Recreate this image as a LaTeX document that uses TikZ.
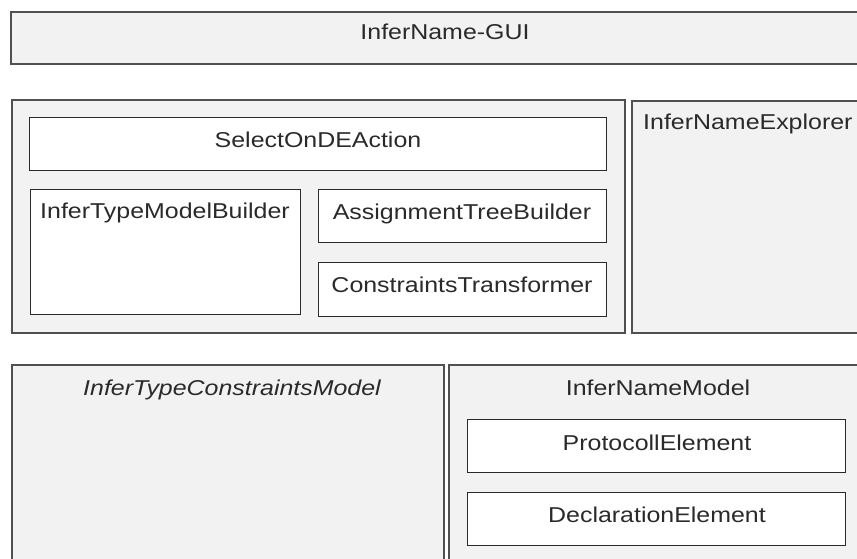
\documentclass[tikz,border=0pt]{standalone}
\usepackage{fontspec}
\setmainfont{Liberation Sans}[FakeStretch=1.16]
\definecolor{panel}{HTML}{F2F2F2}
\definecolor{edge}{HTML}{505050}
\definecolor{ink}{HTML}{2A2A2A}
\begin{document}
\begin{tikzpicture}[x=1pt,y=-1pt,
  outerbox/.style={draw=edge, line width=2.2pt, fill=panel, rectangle, inner sep=0pt, anchor=north west},
  innerbox/.style={draw=ink, line width=1.4pt, fill=white, rectangle, inner sep=0pt, anchor=north west},
  lbl/.style={text=ink, font=\fontsize{21.5}{24}\selectfont, inner sep=0pt, anchor=base}
]
\useasboundingbox (0,0) rectangle (857,559);
\fill[white] (0,0) rectangle (857,559);
% top
\node[outerbox, minimum width=880pt, minimum height=52pt] (gui) at (10,11) {};
\node[lbl] (guit) at (445,40) {InferName-GUI};
% middle left
\node[outerbox, minimum width=613pt, minimum height=233pt] (act) at (11,99) {};
\node[innerbox, minimum width=577pt, minimum height=53pt] (sel) at (29,117) {};
\node[lbl] (selt) at (318,148) {SelectOnDEAction};
\node[innerbox, minimum width=270pt, minimum height=125pt] (itmb) at (30,189) {};
\node[lbl, anchor=base west] (itmbt) at (40,218) {InferTypeModelBuilder};
\node[innerbox, minimum width=288pt, minimum height=53pt] (atb) at (318,189) {};
\node[lbl] (atbt) at (462,219) {AssignmentTreeBuilder};
\node[innerbox, minimum width=288pt, minimum height=54pt] (ct) at (318,262) {};
\node[lbl] (ctt) at (462,292) {ConstraintsTransformer};
% explorer
\node[outerbox, minimum width=240pt, minimum height=232pt] (exp) at (631,100) {};
\node[lbl, anchor=base west] (expt) at (643,130) {InferNameExplorer};
% bottom
\node[outerbox, minimum width=432pt, minimum height=220pt] (itcm) at (11,364) {};
\node[lbl] (itcmt) at (232,395) {\itshape InferTypeConstraintsModel};
\node[outerbox, minimum width=420pt, minimum height=220pt] (inm) at (448,364) {};
\node[lbl] (inmt) at (658,395) {InferNameModel};
\node[innerbox, minimum width=378pt, minimum height=53pt] (pe) at (467,419) {};
\node[lbl] (pet) at (657,450) {ProtocollElement};
\node[innerbox, minimum width=378pt, minimum height=53pt] (de) at (467,492) {};
\node[lbl] (det) at (657,522) {DeclarationElement};
\end{tikzpicture}
\end{document}
